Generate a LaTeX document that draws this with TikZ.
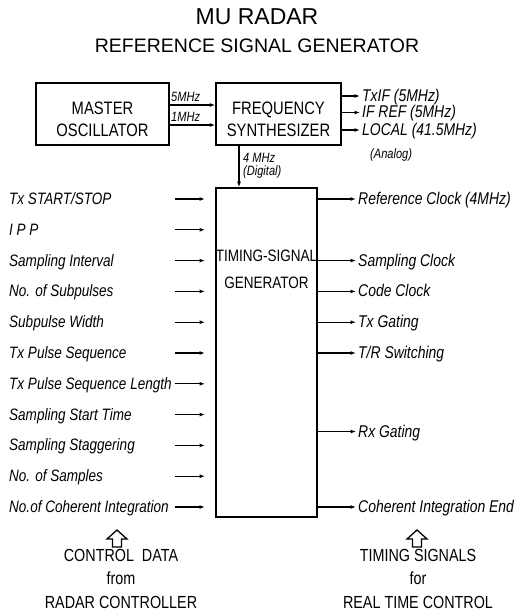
\documentclass[tikz,border=0pt]{standalone}
\usepackage{fontspec}
\setmainfont{Liberation Sans}[FakeStretch=0.82]
\newfontfamily\headfont{Liberation Sans}
\usepackage{tikz}
\usetikzlibrary{arrows.meta,positioning,calc}
\newcommand{\boxfont}{\fontsize{18}{22}\selectfont}
\newcommand{\lblfont}{\itshape\fontsize{16.5}{19}\selectfont}
\newcommand{\outfont}{\itshape\fontsize{17}{19}\selectfont}
\newcommand{\tagfont}{\itshape\fontsize{13.5}{15}\selectfont}
\newcommand{\footfont}{\fontsize{17.5}{23.5}\selectfont}
\tikzset{
  unit/.style={draw,line width=1.5pt,inner sep=0pt},
  boxtxt/.style={inner sep=0pt,align=center,font=\boxfont},
  sig/.style={line width=1.2pt,-{Latex[length=5.5pt,width=4pt]}},
  ctl/.style={anchor=base west,inner sep=0pt,font=\lblfont},
  tim/.style={anchor=base west,inner sep=0pt,font=\outfont},
  tag/.style={inner sep=0pt,font=\tagfont},
  foot/.style={inner sep=0pt,align=center,font=\footfont},
  hollow/.style={line width=1.3pt,fill=white,line join=miter}
}

\begin{document}
\begin{tikzpicture}[x=1pt,y=-1pt]
  \useasboundingbox (0,0) rectangle (529,612);
  \fill[white] (0,0) rectangle (529,612);
  \def\rowtop{199}  % y of first control line
  \def\dy{30.8}     % control line pitch
  % heading
  \node[inner sep=0pt,font={\headfont\fontsize{23}{26}\selectfont}] (title) at (257,16.5) {MU RADAR};
  \node[inner sep=0pt,font={\headfont\fontsize{19.5}{22}\selectfont}] (subtitle) at (257,45.5) {REFERENCE SIGNAL GENERATOR};

  % oscillator -> synthesizer
  \node[unit,minimum width=133pt,minimum height=62pt] (mo) at (102.5,114) {};
  \node[boxtxt] (motx) at ($(mo.center)+(0,5)$) {MASTER\\OSCILLATOR};
  \node[unit,minimum width=125pt,minimum height=62pt] (fs) at (278.5,114) {};
  \node[boxtxt] (fstx) at ($(fs.center)+(0,5)$) {FREQUENCY\\SYNTHESIZER};
  \coordinate (f5) at (0,105);
  \coordinate (f1) at (0,125);
  \draw[sig] (mo.east |- f5) -- (fs.west |- f5);
  \draw[sig] (mo.east |- f1) -- (fs.west |- f1);
  \node[tag,anchor=base west] (l5) at (171,102) {5MHz};
  \node[tag,anchor=base west] (l1) at (171,122) {1MHz};

  % synthesizer outputs
  \foreach \yy/\txt [count=\k] in {96/{TxIF (5MHz)},112.5/{IF REF (5MHz)},130/{LOCAL (41.5MHz)}}{
    \node[tim] (rf\k) at (362,\yy+5.5) {\txt};
    \coordinate (re\k) at (360,\yy);
    \draw[sig] (fs.east |- re\k) -- (re\k);
  }
  \node[tag,anchor=west] (analog) at (370,155) {(Analog)};

  % timing-signal generator
  \node[unit,minimum width=101pt,minimum height=329pt] (tsg) at (266.5,352.5) {};
  \node[inner sep=0pt,align=center,font=\fontsize{16.5}{27}\selectfont] (tsgtx) at (266.5,269.5) {TIMING-SIGNAL\\GENERATOR};
  \coordinate (dg) at (239,0);
  \draw[sig] (fs.south -| dg) -- (tsg.north -| dg);
  \node[tag,anchor=base west] (dig4) at (243,162.5) {4 MHz};
  \node[tag,below=3pt of dig4.south west,anchor=north west] (digl) {(Digital)};

  % control data in
  \foreach \txt [count=\i from 0] in {{Tx START/STOP},{I P P},{Sampling Interval},{No. of Subpulses},
      {Subpulse Width},{Tx Pulse Sequence},{Tx Pulse Sequence Length},{Sampling Start Time},
      {Sampling Staggering},{No. of Samples},{No.of Coherent Integration}}{
    \pgfmathsetmacro\yy{\rowtop+\i*\dy}
    \node[ctl] (ctl\i) at (9,\yy+5.5) {\txt};
    \coordinate (cs\i) at (175,\yy);
    \coordinate (ce\i) at (205,\yy);
    \draw[sig] (cs\i) -- (ce\i);
  }

  % timing signals out
  \foreach \r/\txt [count=\k] in {0/{Reference Clock (4MHz)},2/{Sampling Clock},3/{Code Clock},
      4/{Tx Gating},5/{T/R Switching},7.55/{Rx Gating},10/{Coherent Integration End}}{
    \pgfmathsetmacro\yy{\rowtop+\r*\dy}
    \node[tim] (tim\k) at (358,\yy+5.5) {\txt};
    \coordinate (te\k) at (356,\yy);
    \draw[sig] (tsg.east |- te\k) -- (te\k);
  }

  % hollow arrows and captions
  \foreach \cx/\nm in {117/inar,417/outar}{
    \draw[hollow] (\cx,530) -- (\cx+10,539) -- (\cx+4.5,539) -- (\cx+4.5,547)
      -- (\cx-4.5,547) -- (\cx-4.5,539) -- (\cx-10,539) -- cycle;
  }
  \node[foot] (ctrl) at (121,578.5) {CONTROL\ \ DATA\\from\\RADAR CONTROLLER};
  \node[foot] (rtc) at (418,578.5) {TIMING SIGNALS\\for\\REAL TIME CONTROL};
\end{tikzpicture}
\end{document}
